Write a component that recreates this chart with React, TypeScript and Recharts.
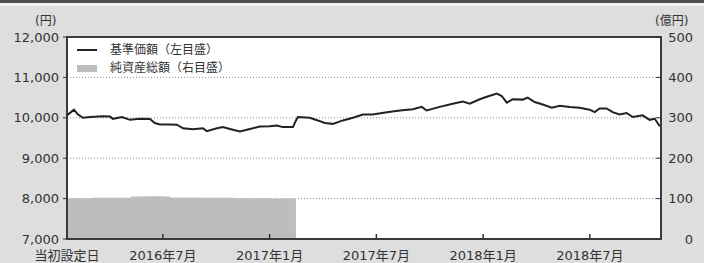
import { Area, CartesianGrid, ComposedChart, Line, ReferenceArea, XAxis, YAxis } from "recharts";

// x = months since 2016-01-01
const priceMonths = [
  0.61, 1.0, 1.23, 1.51, 1.9, 2.63, 3.03, 3.19, 3.7, 4.15, 4.71, 5.27, 5.55, 5.83, 6.4, 6.79, 7.13, 7.69, 8.25,
  8.47, 9.04, 9.37, 9.77, 10.33, 10.89, 11.45, 12.01, 12.41, 12.74, 13.31, 13.48, 13.59, 14.26, 14.71, 15.1,
  15.55, 16.12, 16.68, 17.24, 17.8, 18.59, 19.32, 20.05, 20.55, 20.83, 21.56, 22.29, 22.86, 23.25, 23.81, 24.21,
  24.77, 25.05, 25.33, 25.67, 26.23, 26.51, 26.9, 27.35, 27.86, 28.31, 28.87, 29.43, 29.99, 30.27, 30.55, 30.94,
  31.28, 31.67, 32.07, 32.41, 32.97, 33.36, 33.65, 33.93,
];
const priceValues = [
  10060, 10200, 10080, 10000, 10020, 10040, 10030, 9975, 10020, 9950, 9975, 9970, 9870, 9835, 9835, 9830, 9740,
  9715, 9740, 9670, 9740, 9770, 9725, 9660, 9725, 9785, 9790, 9810, 9770, 9770, 9935, 10020, 10000, 9935, 9870,
  9850, 9935, 10000, 10080, 10080, 10140, 10180, 10210, 10270, 10180, 10270, 10350, 10400, 10350, 10460, 10520,
  10600, 10540, 10375, 10460, 10450, 10500, 10390, 10330, 10250, 10300, 10270, 10250, 10200, 10140, 10230, 10230,
  10140, 10080, 10120, 10020, 10060, 9950, 9975, 9790,
];

const assetMonths = [0.61, 2, 3, 4.2, 5, 6, 6.4, 8, 10, 12, 13.48];
const assetValues = [101, 102, 102, 105, 106, 105, 103, 102, 101, 100, 100];

const xTickMonths = [0.61, 6, 12, 18, 24, 30];
const xTickLabels = ["当初設定日", "2016年7月", "2017年1月", "2017年7月", "2018年1月", "2018年7月"];
const leftTicks = [7000, 8000, 9000, 10000, 11000, 12000];
const rightTicks = [0, 100, 200, 300, 400, 500];

const priceData = priceMonths.map((m, i) => ({ m, price: priceValues[i] }));
const assetData = assetMonths.map((m, i) => ({ m, assets: assetValues[i] }));

const FONT = '"DejaVu Sans", "Noto Sans CJK JP", sans-serif';
const TEXT = "#333";

function XTick({ x, y, payload, index }: any) {
  const i = xTickMonths.indexOf(payload.value);
  return (
    <g>
      {index > 0 && <line x1={x} x2={x} y1={y - 5} y2={y} stroke="#333" strokeWidth={1.5} />}
      <text x={x} y={y + 21} textAnchor="middle" fontSize={13} fontFamily={FONT} fill={TEXT}>
        {xTickLabels[i]}
      </text>
    </g>
  );
}

function LeftTick({ x, y, payload }: any) {
  return (
    <g>
      <line x1={x - 4} x2={x} y1={y} y2={y} stroke="#333" strokeWidth={1} />
      <text x={x - 8} y={y} dy="0.36em" textAnchor="end" fontSize={13} fontFamily={FONT} fill={TEXT}>
        {payload.value.toLocaleString("en-US")}
      </text>
    </g>
  );
}

function RightTick({ x, y, payload }: any) {
  return (
    <g>
      <line x1={x - 5} x2={x} y1={y} y2={y} stroke="#333" strokeWidth={1} />
      <text x={x + 32} y={y} dy="0.36em" textAnchor="end" fontSize={13} fontFamily={FONT} fill={TEXT}>
        {payload.value}
      </text>
    </g>
  );
}

function LegendBox() {
  const row = { display: "flex", alignItems: "center", height: 18 } as const;
  return (
    <div
      style={{
        position: "absolute",
        left: 77,
        top: 41,
        fontFamily: FONT,
        fontSize: 12,
        color: TEXT,
        lineHeight: "18px",
      }}
    >
      <div style={row}>
        <span style={{ width: 20, height: 2, background: "#222", marginRight: 13 }} />
        基準価額（左目盛）
      </div>
      <div style={row}>
        <span style={{ width: 20, height: 7, background: "#bdbdbd", marginRight: 13 }} />
        純資産総額（右目盛）
      </div>
    </div>
  );
}

export default function App() {
  return (
    <div style={{ position: "absolute", left: 0, top: 0, width: 704, height: 263, background: "#dedede" }}>
      <div style={{ position: "absolute", left: 0, top: 0, width: 704, height: 3, background: "#4d4d4d" }} />
      <div style={{ position: "absolute", left: 0, top: 3, width: 704, height: 3, background: "#f2f2f2" }} />
      <div style={{ position: "absolute", left: 35, top: 11, fontFamily: FONT, fontSize: 12, color: TEXT }}>(円)</div>
      <div style={{ position: "absolute", left: 655, top: 11, fontFamily: FONT, fontSize: 12, color: TEXT }}>(億円)</div>
      <ComposedChart width={704} height={263} margin={{ top: 37, right: 0, bottom: 0, left: 0 }}>
        <CartesianGrid yAxisId="left" vertical={false} fill="#ffffff" stroke="#8a8a8a" strokeDasharray="1 2" />
        <XAxis
          dataKey="m"
          type="number"
          domain={[0.61, 34]}
          ticks={xTickMonths}
          allowDuplicatedCategory={false}
          height={24}
          tickSize={0}
          tickMargin={0}
          axisLine={false}
          tick={<XTick />}
          interval={0}
        />
        <YAxis
          yAxisId="left"
          domain={[7000, 12000]}
          ticks={leftTicks}
          width={67}
          tickSize={0}
          tickMargin={0}
          axisLine={false}
          tick={<LeftTick />}
          interval={0}
        />
        <YAxis
          yAxisId="right"
          orientation="right"
          domain={[0, 500]}
          ticks={rightTicks}
          width={43}
          tickSize={0}
          tickMargin={0}
          axisLine={false}
          tick={<RightTick />}
          interval={0}
        />
        <Area
          yAxisId="right"
          data={assetData}
          dataKey="assets"
          type="stepAfter"
          fill="#bdbdbd"
          fillOpacity={1}
          stroke="none"
          isAnimationActive={false}
        />
        <Line
          yAxisId="left"
          data={priceData}
          dataKey="price"
          type="linear"
          stroke="#222"
          strokeWidth={2}
          dot={false}
          isAnimationActive={false}
        />
        <ReferenceArea
          yAxisId="left"
          x1={0.61}
          x2={34}
          y1={7000}
          y2={12000}
          fill="none"
          stroke="#3a3a3a"
          strokeWidth={2}
        />
      </ComposedChart>
      <LegendBox />
    </div>
  );
}
